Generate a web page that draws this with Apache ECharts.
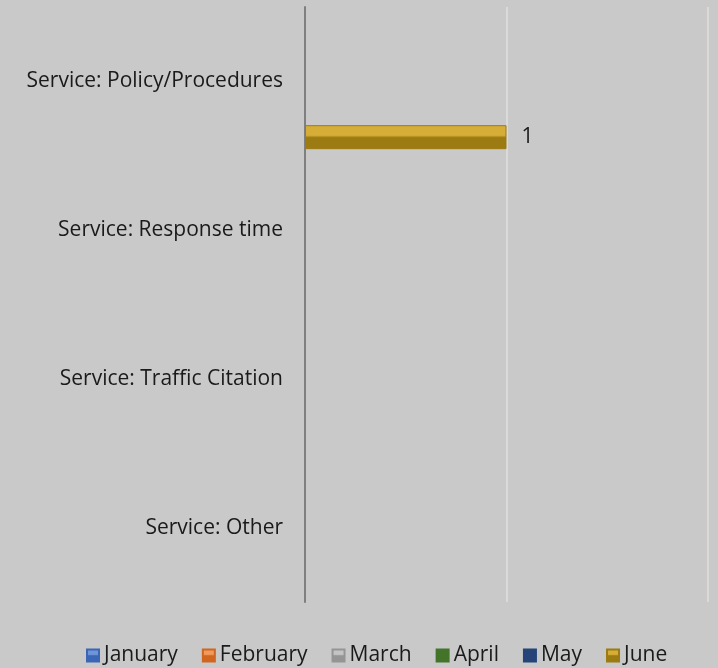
<!DOCTYPE html>
<html><head><meta charset="utf-8">
<script src="https://cdn.jsdelivr.net/npm/echarts@6/dist/echarts.min.js"></script>
<style>html,body{margin:0;padding:0;background:#c9c9c9;}#c{width:718px;height:668px;}</style>
</head><body><div id="c"></div>
<script>
const categories = ['Service: Policy/Procedures','Service: Response time','Service: Traffic Citation','Service: Other'];
const seriesNames = ['January','February','March','April','May','June'];
const january = [null,null,null,null];
const february = [null,null,null,null];
const march = [null,null,null,null];
const april = [null,null,null,null];
const may = [null,null,null,null];
const june = [1,null,null,null];
const xTicks = [0,1,2];
const allData = [january,february,march,april,may,june];
const colors = [
  ['#6f95d8','#3a66b5'],
  ['#f19a5c','#d0661f'],
  ['#c4c4c4','#959595'],
  ['#44742a','#44742a'],
  ['#264478','#264478'],
  ['#d6ad36','#9c7b12']
];
const FONT = 'Open Sans';
const chart = echarts.init(document.getElementById('c'));
chart.setOption({
  backgroundColor:'#c9c9c9',
  animation:false,
  grid:{left:305,right:10,top:7,bottom:66,containLabel:false},
  legend:{
    top:640,left:81,itemWidth:12,itemHeight:12,itemGap:24,
    icon:'rect',
    textStyle:{fontFamily:FONT,fontSize:21,color:'#1a1a1a'},
    data:seriesNames
  },
  xAxis:{type:'value',min:xTicks[0],max:xTicks[xTicks.length-1],interval:1,
    axisLabel:{show:false},axisLine:{show:false},axisTick:{show:false},
    splitLine:{show:true,lineStyle:{color:'#dadada',width:2}}},
  yAxis:{type:'category',data:categories,inverse:true,
    axisLine:{show:true,lineStyle:{color:'#7f7f7f',width:2}},
    axisTick:{show:false},
    axisLabel:{fontFamily:FONT,fontSize:21,color:'#1a1a1a',margin:22,padding:[9,0,0,0]}},
  series: seriesNames.map((n,i)=>({
    name:n,type:'bar',data:allData[i],barWidth:24,barGap:'-7%',
    itemStyle:{color:new echarts.graphic.LinearGradient(0,0,0,1,[
      {offset:0,color:colors[i][0]},{offset:0.42,color:colors[i][0]},
      {offset:0.52,color:colors[i][1]},{offset:1,color:colors[i][1]}]),
      borderColor:colors[i][1],borderWidth:1},
    label:{show:true,position:'right',distance:15,fontFamily:FONT,fontSize:21,color:'#1a1a1a',padding:[7,0,0,0]}
  }))
});
</script></body></html>
